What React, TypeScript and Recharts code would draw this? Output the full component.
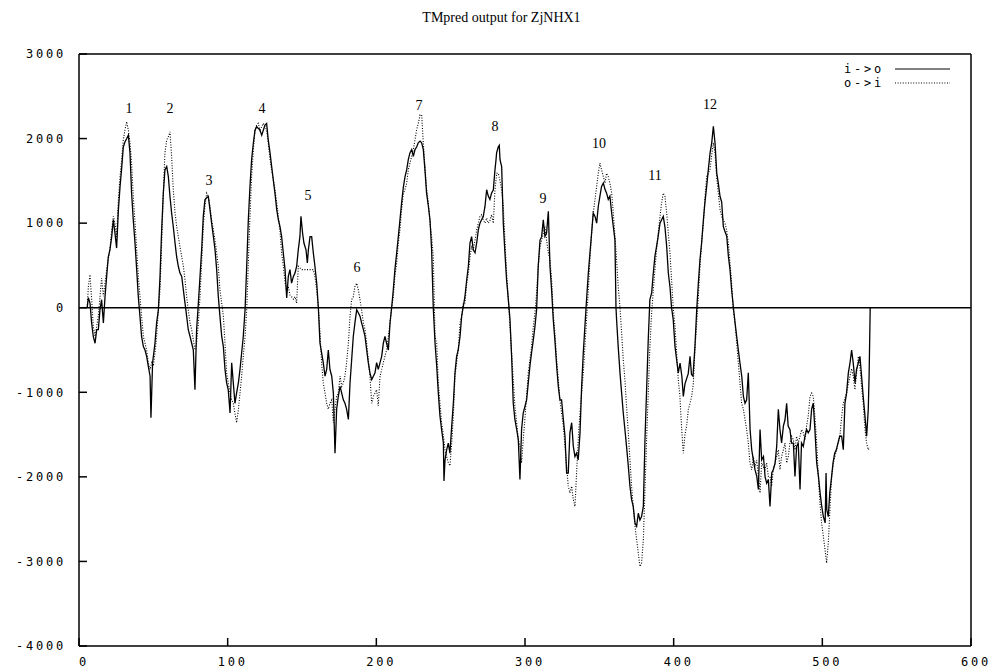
import React from 'react';
import { LineChart, Line, XAxis, YAxis, ReferenceLine, ReferenceDot } from 'recharts';

const chartTitle = 'TMpred output for ZjNHX1';
const seriesNames = ['i->o', 'o->i'];
const xTicks = [0, 100, 200, 300, 400, 500, 600];
const yTicks = [-4000, -3000, -2000, -1000, 0, 1000, 2000, 3000];

// [residue, score], inside->outside (solid)
const ioScores: number[][] = [
  [5.5, 0], [6.3, 120], [7.4, 55], [8.5, -180], [9.6, -340], [10.8, -420], [11.9, -260], [13.0, -260], [14.1, -25], [15.2, 95],
  [16.4, -180], [17.5, 130], [18.6, 370], [19.7, 600], [20.8, 685], [22.0, 840], [23.1, 1040], [24.2, 880], [25.3, 705], [26.5, 1160],
  [27.6, 1430], [28.7, 1650], [29.8, 1900], [30.9, 1960], [32.1, 2000], [33.2, 2040], [34.3, 1830], [35.4, 1350], [36.5, 1040], [37.7, 760],
  [38.8, 450], [39.9, 130], [41.0, -100], [42.1, -340], [43.3, -460], [44.4, -500], [45.5, -575], [46.6, -690], [47.8, -810], [48.4, -1300],
  [49.5, -650], [51.1, -420], [52.2, -180], [53.4, -25], [54.5, 370], [55.6, 920], [56.7, 1350], [57.8, 1630], [59.0, 1670], [60.1, 1550],
  [61.2, 1315], [62.3, 1120], [63.4, 960], [64.6, 765], [65.7, 600], [66.8, 490], [67.9, 410], [69.1, 370], [70.2, 210], [71.3, 55],
  [72.4, -100], [73.5, -260], [74.7, -340], [75.8, -420], [76.9, -500], [78.0, -970], [79.1, -260], [80.3, 55], [81.4, 370], [82.5, 685],
  [83.6, 1080], [84.7, 1275], [85.9, 1300], [87.0, 1315], [88.1, 1160], [89.2, 1000], [90.4, 840], [91.5, 685], [92.6, 450], [93.7, 135],
  [94.8, -100], [96.0, -340], [97.1, -460], [98.2, -730], [99.3, -890], [100.4, -970], [101.6, -1245], [102.7, -650], [103.8, -890], [104.9, -1130],
  [106.0, -1010], [107.2, -890], [108.3, -730], [109.4, -535], [110.5, -340], [111.7, -25], [112.8, 490], [113.9, 1040], [115.0, 1430], [116.1, 1750],
  [117.3, 1950], [118.4, 2100], [119.5, 2140], [121.7, 2100], [122.9, 2040], [125.1, 2160], [126.2, 2180], [127.3, 1985], [128.5, 1830], [129.6, 1670],
  [130.7, 1510], [131.8, 1355], [133.0, 1160], [134.1, 1040], [135.2, 960], [136.3, 840], [137.4, 650], [138.6, 450], [139.7, 115], [140.8, 370],
  [141.9, 450], [143.0, 290], [144.2, 370], [145.3, 410], [146.4, 490], [147.5, 685], [148.6, 840], [149.3, 1080], [150.4, 880], [151.3, 765],
  [152.7, 685], [153.6, 530], [154.3, 685], [155.4, 840], [156.5, 840], [157.6, 650], [158.7, 490], [159.9, 290], [161.0, 0], [162.1, -420],
  [163.2, -535], [164.3, -650], [165.5, -810], [166.6, -730], [167.7, -500], [168.8, -730], [170.0, -810], [171.1, -1010], [172.2, -1720], [173.3, -1200],
  [174.4, -1050], [175.6, -930], [176.7, -1010], [177.8, -1090], [178.9, -1130], [180.0, -1200], [181.2, -1320], [182.3, -890], [183.4, -615], [184.5, -340],
  [185.6, -180], [186.8, -25], [187.9, -60], [189.0, -100], [190.1, -180], [191.3, -260], [192.4, -340], [193.5, -500], [194.6, -650], [195.7, -770],
  [196.9, -850], [198.0, -810], [199.1, -770], [200.2, -650], [201.3, -730], [202.5, -650], [203.6, -575], [204.7, -420], [205.8, -340], [206.9, -420],
  [208.1, -500], [209.2, -180], [210.3, 0], [211.4, 210], [212.5, 450], [213.7, 650], [214.8, 840], [215.9, 1040], [217.0, 1240], [218.2, 1430],
  [219.3, 1550], [220.4, 1630], [221.5, 1750], [222.6, 1830], [223.8, 1870], [224.9, 1790], [226.0, 1870], [227.1, 1900], [228.2, 1950], [229.4, 1970],
  [230.5, 1950], [231.6, 1870], [232.7, 1630], [233.8, 1355], [235.0, 1200], [236.1, 1040], [237.2, 685], [238.3, 0], [239.5, -420], [240.6, -690],
  [241.7, -1010], [242.8, -1280], [243.9, -1440], [245.1, -1600], [245.5, -2050], [246.2, -1800], [247.3, -1680], [248.4, -1600], [249.5, -1720], [250.7, -1400],
  [251.8, -1130], [252.9, -770], [254.0, -575], [255.1, -500], [256.3, -340], [257.4, -100], [258.5, 15], [259.6, 130], [260.8, 330], [261.9, 490],
  [263.0, 765], [264.1, 840], [265.2, 685], [266.4, 650], [267.5, 765], [268.6, 920], [269.7, 1000], [270.8, 1040], [271.9, 1075], [273.1, 1200],
  [274.2, 1395], [275.3, 1320], [276.4, 1280], [277.5, 1355], [278.7, 1395], [279.8, 1630], [280.5, 1750], [280.9, 1830], [282.0, 1900], [282.7, 1920],
  [283.2, 1750], [284.3, 1670], [285.4, 1000], [286.5, 650], [287.6, 330], [288.8, 95], [289.9, -140], [291.0, -575], [292.1, -1130], [293.2, -1320],
  [294.4, -1440], [295.5, -1560], [296.6, -2030], [297.7, -1440], [298.8, -1245], [300.0, -1165], [301.1, -1090], [302.2, -890], [303.3, -690], [304.4, -535],
  [305.6, -380], [306.7, -220], [307.8, -25], [308.9, 490], [310.1, 800], [311.2, 840], [312.3, 1040], [313.4, 845], [314.5, 880], [315.7, 1140],
  [316.8, 490], [317.9, 210], [319.0, -140], [320.1, -380], [321.3, -690], [322.4, -930], [323.5, -1090], [324.6, -1090], [325.8, -1320], [326.9, -1520],
  [328.0, -1955], [329.1, -1955], [330.2, -1480], [331.4, -1360], [332.5, -1640], [333.6, -1760], [334.7, -1720], [335.8, -1800], [337.0, -1480], [338.1, -930],
  [339.2, -535], [340.3, -220], [341.4, 95], [342.6, 410], [343.7, 650], [344.8, 880], [345.9, 1120], [347.1, 1080], [348.2, 1000], [349.3, 1200],
  [350.4, 1320], [351.5, 1435], [352.7, 1475], [353.8, 1400], [354.9, 1355], [356.0, 1280], [357.1, 1320], [358.3, 1120], [359.4, 960], [360.5, 800],
  [361.2, 0], [361.6, -140], [362.7, -460], [363.9, -770], [365.0, -1010], [366.1, -1245], [367.2, -1440], [368.3, -1640], [369.5, -1875], [370.6, -2110],
  [371.7, -2270], [372.8, -2350], [374.0, -2545], [375.1, -2585], [376.2, -2430], [377.3, -2510], [378.4, -2470], [379.6, -2350], [380.7, -1560], [381.8, -970],
  [382.9, -380], [384.0, 95], [385.2, 175], [386.3, 410], [387.4, 610], [388.5, 725], [389.6, 845], [390.8, 1000], [391.9, 1040], [393.0, 1080],
  [394.1, 960], [395.3, 725], [396.4, 410], [397.5, 250], [398.6, 0], [399.7, -140], [400.9, -460], [402.0, -615], [403.1, -770], [404.3, -655],
  [405.5, -810], [406.5, -1050], [407.6, -900], [409.8, -780], [411.0, -575], [412.0, -790], [413.0, -810], [414.3, -460], [415.5, -25], [416.6, 290],
  [417.7, 570], [418.8, 765], [420.0, 1040], [421.0, 1240], [422.2, 1435], [423.3, 1630], [424.5, 1830], [425.6, 1950], [426.7, 2145], [427.8, 1950],
  [429.0, 1590], [430.0, 1475], [431.2, 1315], [432.3, 1250], [433.4, 960], [434.5, 900], [435.7, 845], [436.8, 610], [437.9, 450], [439.0, 210],
  [440.2, 0], [441.3, -180], [442.4, -340], [443.5, -500], [444.6, -655], [445.8, -810], [446.9, -1050], [448.0, -1130], [449.1, -1090], [450.2, -770],
  [451.4, -1440], [452.5, -1680], [453.6, -1800], [454.7, -1915], [455.9, -1995], [457.0, -2150], [458.1, -1440], [459.2, -1800], [460.4, -1760], [461.5, -2000],
  [462.6, -2075], [463.7, -2030], [464.8, -2350], [466.0, -1950], [467.0, -1915], [468.2, -1840], [469.3, -1640], [470.4, -1200], [471.5, -1440], [472.6, -1600],
  [473.8, -1400], [474.9, -1325], [476.0, -1130], [477.0, -1400], [478.2, -1440], [479.3, -1600], [480.5, -1600], [481.6, -1995], [482.7, -1640], [483.8, -1600],
  [485.0, -2150], [486.0, -1600], [487.2, -1640], [488.3, -1520], [489.4, -1440], [490.5, -1480], [491.7, -1440], [492.8, -1200], [493.9, -1130], [495.0, -1440],
  [496.2, -1835], [497.4, -1995], [498.5, -2190], [499.6, -2350], [500.7, -2470], [501.9, -2545], [502.5, -1955], [503.0, -2390], [504.0, -2470], [505.0, -2190],
  [506.0, -2035], [507.2, -1835], [508.3, -1720], [509.4, -1680], [510.5, -1600], [511.7, -1520], [513.0, -1520], [514.1, -1680], [515.2, -1130], [516.3, -1010],
  [517.5, -770], [518.6, -655], [519.7, -500], [520.8, -655], [522.0, -890], [523.0, -730], [524.2, -655], [525.3, -575], [526.4, -810], [527.5, -1050],
  [528.7, -1285], [529.8, -1520], [530.9, -1200], [531.5, -770], [532.2, 0],
];

// [residue, score] outside->inside (dotted)
const oiScores: number[][] = [
  [5.5, 0], [6.3, 250], [7.4, 390], [8.5, 100], [9.6, -220], [10.8, -340], [13.0, -100], [15.2, 350], [16.4, 135], [17.5, 290],
  [18.6, 450], [19.7, 570], [20.8, 685], [22.0, 920], [23.1, 1080], [24.2, 1000], [25.3, 840], [26.5, 1280], [27.6, 1550], [28.7, 1750],
  [29.8, 1985], [30.9, 2100], [32.1, 2200], [33.2, 2100], [34.3, 1950], [35.4, 1710], [36.5, 1315], [37.7, 1000], [38.8, 685], [39.9, 370],
  [41.0, 135], [42.1, -100], [43.3, -340], [44.4, -420], [45.5, -500], [46.6, -650], [47.8, -730], [48.9, -650], [50.0, -690], [51.1, -535],
  [52.2, -340], [53.4, -25], [54.5, 210], [55.6, 765], [56.7, 1350], [57.8, 1830], [59.0, 1985], [60.1, 2020], [61.2, 2080], [62.3, 1790],
  [63.4, 1400], [64.6, 1120], [65.7, 960], [66.8, 840], [67.9, 725], [69.1, 600], [70.2, 490], [71.3, 330], [72.4, 130], [73.5, -25],
  [74.7, -180], [75.8, -260], [76.9, -380], [78.0, -500], [79.1, -420], [80.3, -180], [81.4, 135], [82.5, 530], [83.6, 960], [84.7, 1200],
  [85.9, 1355], [87.0, 1315], [88.1, 1200], [89.2, 1040], [90.4, 920], [91.5, 800], [92.6, 650], [93.7, 490], [94.8, 210], [96.0, 55],
  [97.1, -100], [98.2, -420], [99.3, -770], [100.4, -890], [101.6, -1010], [102.7, -1090], [103.8, -1130], [104.9, -1250], [106.0, -1360], [107.2, -1210],
  [108.3, -1010], [109.4, -810], [110.5, -575], [111.7, -340], [112.8, -25], [113.9, 530], [115.0, 1080], [116.1, 1550], [117.3, 1870], [118.4, 2100],
  [119.5, 2160], [120.6, 2180], [121.7, 2100], [122.9, 2140], [124.0, 2180], [125.1, 2140], [126.2, 2100], [127.3, 1950], [128.5, 1750], [129.6, 1630],
  [130.7, 1510], [131.8, 1400], [133.0, 1240], [134.1, 1080], [135.2, 900], [136.3, 650], [137.4, 500], [138.6, 300], [139.7, 200], [140.8, 250],
  [141.9, 150], [143.0, 130], [144.2, 100], [145.3, 130], [146.4, 55], [147.5, 490], [148.6, 470], [150.0, 450], [151.3, 450], [153.6, 450],
  [155.4, 450], [157.6, 450], [158.7, 370], [159.9, 210], [161.0, 0], [162.1, -300], [163.2, -650], [164.3, -890], [165.5, -1010], [166.6, -1130],
  [167.7, -1200], [168.8, -1130], [170.0, -1090], [171.1, -1360], [172.2, -1200], [173.3, -1050], [174.4, -1010], [175.6, -810], [176.7, -930], [177.8, -890],
  [178.9, -810], [180.0, -650], [181.2, -420], [182.3, -100], [183.4, 95], [184.5, 130], [185.6, 250], [186.8, 290], [187.9, 210], [189.0, 95],
  [190.1, -25], [191.3, -180], [192.4, -260], [193.5, -420], [194.6, -615], [195.7, -810], [196.9, -1130], [198.0, -1050], [199.1, -1010], [200.2, -970],
  [201.3, -1160], [202.5, -810], [203.6, -730], [204.7, -650], [205.8, -575], [206.9, -500], [208.1, -340], [209.2, -180], [210.3, 0], [211.4, 130],
  [212.5, 370], [213.7, 530], [214.8, 765], [215.9, 920], [217.0, 1160], [218.2, 1350], [219.3, 1400], [220.4, 1470], [221.5, 1630], [222.6, 1710],
  [223.8, 1790], [224.9, 1870], [226.0, 1985], [227.1, 2100], [228.2, 2180], [229.4, 2280], [230.5, 2280], [231.6, 1950], [232.7, 1670], [233.8, 1400],
  [235.0, 1240], [236.1, 1000], [237.2, 840], [238.3, 600], [239.5, -340], [240.6, -420], [241.7, -890], [242.8, -1130], [243.9, -1360], [245.1, -1510],
  [246.2, -1680], [247.3, -1760], [248.4, -1830], [249.5, -1870], [250.7, -1600], [251.8, -1280], [252.9, -810], [254.0, -650], [255.1, -500], [256.3, -180],
  [257.4, -100], [258.5, 55], [259.6, 55], [260.8, 290], [261.9, 410], [263.0, 600], [264.1, 720], [265.2, 685], [266.4, 800], [267.5, 920],
  [268.6, 1000], [269.7, 1080], [270.8, 1100], [271.9, 1040], [273.1, 1000], [274.2, 1060], [275.3, 1000], [276.4, 1030], [277.5, 1100], [278.7, 1000],
  [279.8, 1395], [281.0, 1590], [282.0, 1590], [283.2, 1500], [284.3, 1395], [285.4, 1200], [286.5, 800], [287.6, 410], [288.8, 95], [289.9, -220],
  [291.0, -535], [292.1, -850], [293.2, -1165], [294.4, -1360], [295.5, -1560], [296.6, -1640], [297.7, -1835], [298.8, -1560], [300.0, -1300], [301.1, -1030],
  [302.2, -770], [303.3, -615], [304.4, -460], [305.6, -220], [306.7, -60], [307.8, 175], [308.9, 490], [310.1, 725], [311.2, 800], [312.3, 880],
  [313.4, 960], [314.5, 800], [315.7, 650], [316.8, 570], [317.9, 330], [319.0, -60], [320.1, -300], [321.3, -615], [322.4, -850], [323.5, -1090],
  [324.6, -1245], [325.8, -1400], [326.9, -1640], [328.0, -1875], [329.1, -2110], [330.2, -2190], [331.4, -2110], [332.5, -2270], [333.6, -2350], [334.7, -1955],
  [335.8, -1560], [337.0, -1245], [338.1, -1010], [339.2, -770], [340.3, -460], [341.4, -140], [342.6, 210], [343.7, 570], [344.8, 880], [345.9, 1120],
  [347.1, 1280], [348.2, 1435], [349.3, 1590], [350.4, 1710], [351.5, 1630], [352.7, 1550], [353.8, 1475], [354.9, 1590], [356.0, 1550], [357.1, 1475],
  [358.3, 1355], [359.4, 1120], [360.5, 845], [361.6, 570], [362.7, 250], [363.9, 0], [365.0, -300], [366.1, -615], [367.2, -850], [368.3, -1165],
  [369.5, -1480], [370.6, -1800], [371.7, -2110], [372.8, -2350], [374.0, -2585], [375.1, -2745], [376.2, -2900], [377.3, -3060], [378.4, -3020], [379.6, -2745],
  [380.7, -2150], [381.8, -1560], [382.9, -1010], [384.0, -460], [385.2, -60], [386.3, 210], [387.4, 450], [388.5, 690], [389.6, 880], [390.8, 1080],
  [391.9, 1240], [393.0, 1355], [394.1, 1320], [395.3, 1120], [396.4, 880], [397.5, 650], [398.6, 330], [399.7, 0], [400.9, -220], [402.0, -535],
  [403.1, -850], [404.2, -1050], [405.4, -1440], [406.5, -1720], [407.6, -1500], [408.7, -1400], [409.9, -1200], [411.0, -1130], [412.1, -1050], [413.2, -900],
  [414.3, -500], [415.5, -180], [416.6, 130], [417.7, 490], [418.8, 765], [420.0, 1000], [421.1, 1315], [422.2, 1550], [423.3, 1590], [424.4, 1630],
  [425.5, 1790], [426.7, 1950], [427.8, 1830], [428.9, 1550], [430.0, 1355], [431.2, 1160], [432.3, 1080], [433.4, 1040], [434.5, 1000], [435.6, 920],
  [436.8, 765], [437.9, 530], [439.0, 290], [440.1, -25], [441.3, -180], [442.4, -420], [443.5, -655], [444.6, -890], [445.7, -1130], [446.9, -1200],
  [448.0, -1325], [449.1, -1440], [450.2, -1600], [451.3, -1835], [452.5, -1915], [453.6, -1760], [454.7, -1880], [455.8, -1800], [457.0, -1995], [458.1, -2190],
  [459.2, -1835], [460.3, -1880], [461.4, -1915], [462.5, -1835], [463.7, -1995], [464.8, -1995], [465.9, -2110], [467.0, -1915], [468.2, -1835], [469.3, -1760],
  [470.4, -1680], [471.5, -1915], [472.6, -1760], [473.8, -1680], [474.9, -1600], [476.0, -1835], [477.1, -1760], [478.2, -1600], [479.3, -1520], [480.5, -1560],
  [481.6, -1680], [482.7, -1520], [483.8, -1600], [485.0, -1520], [486.1, -1440], [487.2, -1480], [488.3, -1560], [489.4, -1400], [490.5, -1285], [491.7, -1050],
  [492.8, -1010], [493.9, -1050], [495.0, -1285], [496.2, -1600], [497.3, -1995], [498.4, -2310], [499.5, -2545], [500.7, -2705], [501.8, -2860], [502.9, -3020],
  [504.0, -2780], [505.1, -2390], [506.3, -1995], [507.4, -1835], [508.5, -1760], [509.6, -1680], [510.7, -1600], [511.8, -1520], [513.0, -1285], [514.1, -1130],
  [515.2, -1070], [516.3, -1010], [517.5, -900], [518.6, -810], [519.7, -720], [520.8, -810], [521.9, -970], [523.0, -780], [524.2, -575], [525.3, -700],
  [526.4, -930], [527.5, -1130], [528.7, -1440], [529.8, -1600], [530.9, -1680], [532.0, -1650],
];

// numbered helix labels placed above each peak
const helixLabels = ['1', '2', '3', '4', '5', '6', '7', '8', '9', '10', '11', '12'];
const helixX = [33.6, 61.2, 87.4, 123.1, 154.0, 187.0, 228.7, 279.8, 312.1, 349.8, 387.4, 424.4];
const helixY = [2361, 2361, 1510, 2361, 1333, 481, 2397, 2149, 1297, 1948, 1569, 2409];

const monoTick = {
  fill: '#000',
  fontSize: 12,
  fontFamily: 'DejaVu Sans Mono, monospace',
  letterSpacing: 2.8,
};

const serif = 'Liberation Serif, Times New Roman, serif';

const toPoints = (rows: number[][]) => rows.map(([x, y]) => ({ x, y }));

export default function App() {
  const io = toPoints(ioScores);
  const oi = toPoints(oiScores);

  return (
    <div style={{ position: 'absolute', left: 0, top: 0, width: 1003, height: 672, background: '#fff' }}>
      <div
        style={{
          position: 'absolute', left: 0, top: 10, width: 1003, textAlign: 'center',
          fontFamily: serif, fontSize: 14, lineHeight: '16px', color: '#000',
        }}
      >
        {chartTitle}
      </div>

      <LineChart width={1003} height={672} margin={{ top: 0, right: 0, bottom: 0, left: 0 }}>
        <XAxis
          type="number" dataKey="x" domain={[0, 600]} ticks={xTicks} interval={0}
          height={26} tickSize={-8} tickMargin={19}
          axisLine={{ stroke: '#000', strokeWidth: 1.5 }} tickLine={{ stroke: '#000', strokeWidth: 1.5 }}
          tick={{ ...monoTick, dx: 5 }}
        />
        <XAxis
          xAxisId="top" orientation="top" type="number" domain={[0, 600]} ticks={xTicks} interval={0}
          height={54} tickSize={-8} tick={false}
          axisLine={{ stroke: '#000', strokeWidth: 1.5 }} tickLine={{ stroke: '#000', strokeWidth: 1.5 }}
        />
        <YAxis
          type="number" domain={[-4000, 3000]} ticks={yTicks} interval={0}
          width={79} tickSize={-8} tickMargin={21}
          axisLine={{ stroke: '#000', strokeWidth: 1.5 }} tickLine={{ stroke: '#000', strokeWidth: 1.5 }}
          tick={monoTick}
        />
        <YAxis
          yAxisId="right" orientation="right" type="number" domain={[-4000, 3000]} ticks={yTicks} interval={0}
          width={32} tickSize={-8} tick={false}
          axisLine={{ stroke: '#000', strokeWidth: 1.5 }} tickLine={{ stroke: '#000', strokeWidth: 1.5 }}
        />

        <ReferenceLine y={0} stroke="#000" strokeWidth={1.5} />

        <Line
          data={oi} dataKey="y" name={seriesNames[1]} type="linear" stroke="#000" strokeWidth={1.1}
          strokeDasharray="1 1.6" dot={false} activeDot={false} isAnimationActive={false}
        />
        <Line
          data={io} dataKey="y" name={seriesNames[0]} type="linear" stroke="#000" strokeWidth={1.3}
          dot={false} activeDot={false} isAnimationActive={false}
        />

        {helixLabels.map((label, i) => (
          <ReferenceDot
            key={label} x={helixX[i]} y={helixY[i]} r={0} fill="none" stroke="none"
            label={{ value: label, position: 'center', fill: '#000', fontSize: 14, fontFamily: serif }}
          />
        ))}
      </LineChart>

      <svg style={{ position: 'absolute', left: 840, top: 60 }} width={120} height={32}>
        {seriesNames.map((name, i) => (
          <g key={name}>
            <text x={4} y={13 + i * 14} style={monoTick} fill="#000" fontSize={12}>
              {name}
            </text>
            <line
              x1={55} x2={110} y1={9 + i * 14} y2={9 + i * 14}
              stroke="#000" strokeWidth={1} strokeDasharray={i === 1 ? '1 1.6' : undefined}
            />
          </g>
        ))}
      </svg>
    </div>
  );
}
